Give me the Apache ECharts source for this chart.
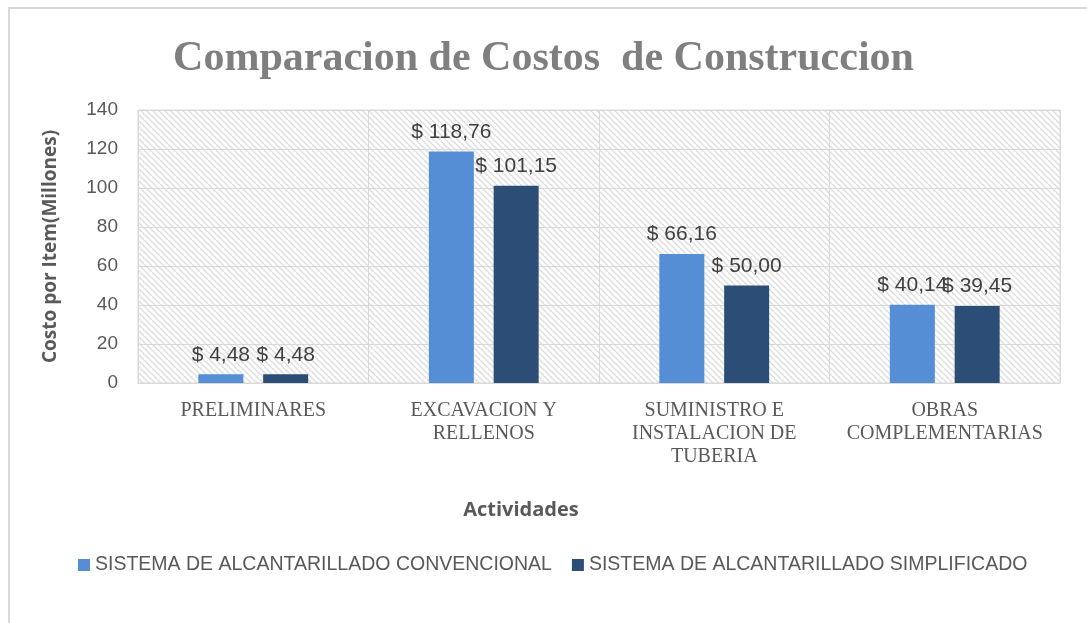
<!DOCTYPE html>
<html>
<head>
<meta charset="utf-8">
<title>Comparacion de Costos de Construccion</title>
<script src="https://cdn.jsdelivr.net/npm/echarts@6/dist/echarts.min.js"></script>
<style>
    html, body { margin: 0; padding: 0; background: #fff; }
    #wrap { position: relative; width: 1087px; height: 623px; overflow: hidden; }
    #frame { position: absolute; left: 8px; top: 7px; width: 1200px; height: 700px;
             border-left: 2px solid #d9d9d9; border-top: 2px solid #d9d9d9; }
    #chart { position: absolute; left: 0; top: 0; width: 1087px; height: 623px; }
</style>
</head>
<body>
<div id="wrap">
    <div id="frame"></div>
    <div id="chart"></div>
</div>
<script>
// datos del grafico
const actividades = ['PRELIMINARES', 'EXCAVACION Y\nRELLENOS', 'SUMINISTRO E\nINSTALACION DE\nTUBERIA', 'OBRAS\nCOMPLEMENTARIAS'];
const convencional = [4.48, 118.76, 66.16, 40.14];
const simplificado = [4.48, 101.15, 50.00, 39.45];
const nombresSeries = ['SISTEMA DE ALCANTARILLADO CONVENCIONAL', 'SISTEMA DE ALCANTARILLADO SIMPLIFICADO'];

// fondo rayado del area de trazado
function crearRayado() {
    const c = document.createElement('canvas');
    c.width = 6;
    c.height = 6;
    const ctx = c.getContext('2d');
    ctx.fillStyle = '#ffffff';
    ctx.fillRect(0, 0, 6, 6);
    ctx.strokeStyle = '#dcdcdc';
    ctx.lineWidth = 1.3;
    ctx.beginPath();
    ctx.moveTo(-1, -1); ctx.lineTo(7, 7);
    ctx.moveTo(-4, 2); ctx.lineTo(4, 10);
    ctx.moveTo(2, -4); ctx.lineTo(10, 4);
    ctx.stroke();
    return c;
}

const formatoPesos = p => '$ ' + p.value.toFixed(2).replace('.', ',');

const etiqueta = {
    show: true,
    position: 'top',
    distance: 9,
    color: '#404040',
    fontSize: 21,
    fontFamily: 'Liberation Sans, Arial, sans-serif',
    formatter: formatoPesos
};

document.addEventListener('DOMContentLoaded', () => {
    const myChart = echarts.init(document.getElementById('chart'));
    const option = {
        animation: false,
        title: {
            text: 'Comparacion de Costos  de Construccion',
            left: 'center',
            top: 33,
            textStyle: {
                fontFamily: 'Liberation Serif, Times New Roman, serif',
                fontWeight: 'bold',
                fontSize: 42,
                color: '#7f7f7f'
            }
        },
        grid: {
            left: 138,
            right: 27,
            top: 110,
            bottom: 240,
            show: true,
            borderColor: '#d9d9d9',
            borderWidth: 1,
            backgroundColor: { image: crearRayado(), repeat: 'repeat' }
        },
        legend: {
            data: nombresSeries,
            bottom: 43,
            left: 73,
            itemWidth: 12,
            itemHeight: 12,
            itemGap: 20,
            icon: 'rect',
            textStyle: {
                fontFamily: 'Liberation Sans, Arial, sans-serif',
                fontSize: 19.5,
                color: '#595959'
            }
        },
        xAxis: {
            type: 'category',
            data: actividades,
            name: 'Actividades',
            nameLocation: 'middle',
            nameGap: 117,
            nameTextStyle: {
                fontFamily: 'Open Sans, sans-serif',
                fontWeight: 'bold',
                fontSize: 20,
                color: '#595959',
                padding: [0, 156, 0, 0]
            },
            axisLine: { lineStyle: { color: '#d9d9d9' } },
            axisTick: { show: false },
            splitLine: { show: true, lineStyle: { color: '#d9d9d9' } },
            axisLabel: {
                margin: 16,
                fontFamily: 'Liberation Serif, Times New Roman, serif',
                fontSize: 20,
                lineHeight: 23,
                color: '#595959',
                interval: 0
            }
        },
        yAxis: {
            type: 'value',
            min: 0,
            max: 140,
            interval: 20,
            name: 'Costo por Item(Millones)',
            nameLocation: 'middle',
            nameGap: 78,
            nameTextStyle: {
                fontFamily: 'Open Sans, sans-serif',
                fontWeight: 'bold',
                fontSize: 19,
                color: '#595959'
            },
            axisLine: { show: false },
            axisTick: { show: false },
            splitLine: { lineStyle: { color: '#d9d9d9' } },
            axisLabel: {
                margin: 20,
                fontFamily: 'Liberation Sans, Arial, sans-serif',
                fontSize: 19,
                color: '#595959'
            }
        },
        series: [
            {
                name: nombresSeries[0],
                type: 'bar',
                data: convencional,
                barWidth: 45,
                barGap: '44%',
                itemStyle: { color: '#558ed5' },
                label: etiqueta
            },
            {
                name: nombresSeries[1],
                type: 'bar',
                data: simplificado,
                barWidth: 45,
                barGap: '44%',
                itemStyle: { color: '#2c4d75' },
                label: etiqueta
            }
        ]
    };
    myChart.setOption(option);
});
</script>
</body>
</html>
